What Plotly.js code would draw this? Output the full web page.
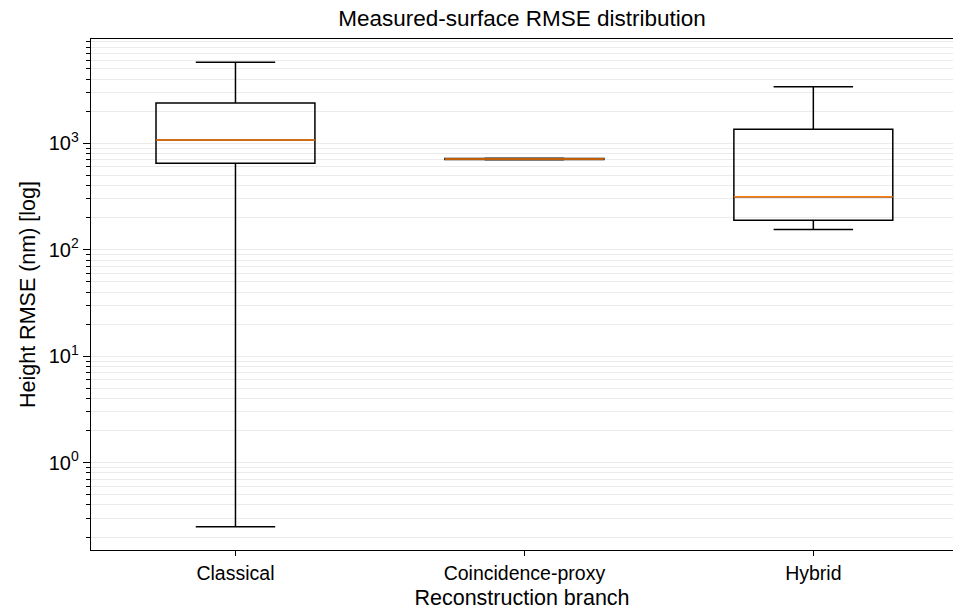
<!DOCTYPE html>
<html>
<head>
<meta charset="utf-8">
<script src="https://cdn.plot.ly/plotly-3.0.1.min.js"></script>
<style>html,body{margin:0;padding:0;background:#fff;}#chart{width:953px;height:611px;}</style>
</head>
<body>
<div id="chart"></div>
<script>
// Data (RMSE in nm)
const categories = ['Classical', 'Coincidence-proxy', 'Hybrid'];
const lowerWhisker = [0.249, 698, 155];
const q1Values = [649, 705, 189];
const medianValues = [1075, 712, 315];
const q3Values = [2390, 718, 1353];
const upperWhisker = [5770, 722, 3400];
const yTickVals = [1, 10, 100, 1000];
const yTickText = ['10<sup>0</sup>', '10<sup>1</sup>', '10<sup>2</sup>', '10<sup>3</sup>'];

const positions = categories.map((c, i) => i + 1);
const boxWidth = 0.55;
const font = 'Liberation Sans, Arial, sans-serif';

// minor ticks 2..9 per decade
const minorVals = [];
for (let e = -1; e <= 3; e++) {
  for (let m = 2; m <= 9; m++) minorVals.push(m * Math.pow(10, e));
}

const boxTrace = {
  type: 'box',
  x: positions,
  q1: q1Values,
  median: medianValues,
  q3: q3Values,
  lowerfence: lowerWhisker,
  upperfence: upperWhisker,
  width: boxWidth,
  whiskerwidth: 0.5,
  boxpoints: false,
  fillcolor: 'rgba(255,255,255,0)',
  line: {color: '#000000', width: 1.5},
  hoverinfo: 'skip',
  showlegend: false
};

const mx = [], my = [];
positions.forEach((p, i) => {
  mx.push(p - boxWidth / 2, p + boxWidth / 2, null);
  my.push(medianValues[i], medianValues[i], null);
});
const medianTrace = {
  type: 'scatter', mode: 'lines', x: mx, y: my,
  line: {color: '#ff7f0e', width: 1.5},
  hoverinfo: 'skip', showlegend: false, connectgaps: false
};

const layout = {
  width: 953, height: 611,
  margin: {l: 91, r: 0, t: 39, b: 61},
  paper_bgcolor: '#ffffff', plot_bgcolor: '#ffffff',
  font: {family: font, color: '#000000', size: 19},
  title: {text: 'Measured-surface RMSE distribution', font: {family: font, size: 22.5, color: '#000'},
          x: 0.5, xref: 'paper', xanchor: 'center', y: 1 - 18.5 / 611, yref: 'container', yanchor: 'middle'},
  xaxis: {
    type: 'linear',
    range: [0.5, 0.5 + 862.2 / 289],
    tickmode: 'array', tickvals: positions, ticktext: categories,
    showgrid: false, zeroline: false,
    showline: true, linecolor: '#000', linewidth: 1.3, mirror: true,
    ticks: 'outside', ticklen: 5, tickwidth: 1, tickcolor: '#000',
    tickfont: {family: font, size: 19.5, color: '#000'},
    title: {text: 'Reconstruction branch', font: {family: font, size: 21.5, color: '#000'}, standoff: 7}
  },
  yaxis: {
    type: 'log',
    range: [Math.log10(0.151), 3.979],
    tickmode: 'array', tickvals: yTickVals, ticktext: yTickText,
    showgrid: true, gridcolor: '#ebebeb', gridwidth: 1,
    zeroline: false,
    showline: true, linecolor: '#000', linewidth: 1.3, mirror: false,
    ticks: 'outside', ticklen: 7, tickwidth: 1, tickcolor: '#000',
    tickfont: {family: font, size: 20, color: '#000'},
    minor: {tickmode: 'array', tickvals: minorVals, ticks: 'outside', ticklen: 4, tickwidth: 1, tickcolor: '#000',
            showgrid: true, gridcolor: '#ebebeb', gridwidth: 1},
    title: {text: 'Height RMSE (nm) [log]', font: {family: font, size: 21.5, color: '#000'}, standoff: 7}
  },
  showlegend: false
};

Plotly.newPlot('chart', [boxTrace, medianTrace], layout, {displayModeBar: false, staticPlot: true});
</script>
</body>
</html>
